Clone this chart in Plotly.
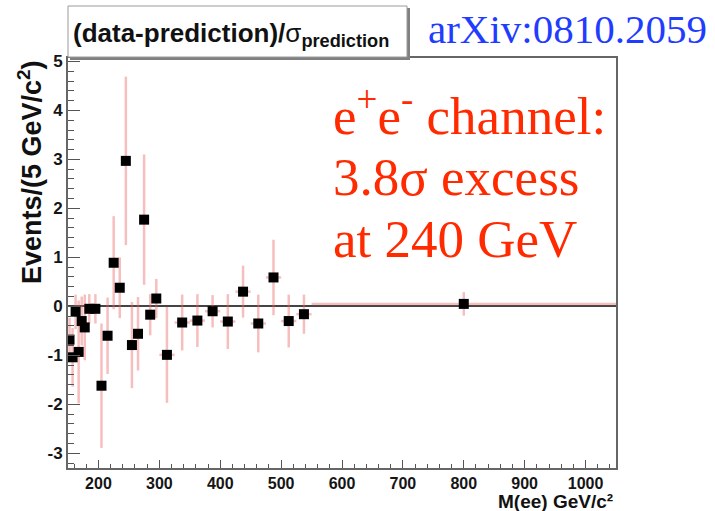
import plotly.graph_objects as go

# ---- data ----
mass = [152.5, 157.5, 162.5, 167.5, 172.5, 177.5, 185, 195, 205, 215, 225, 235, 245, 255,
        265, 275, 285, 295, 312.5, 337.5, 362.5, 387.5, 412.5, 437.5, 462.5, 487.5, 512.5,
        537.5, 800]
bin_half = [2.5, 2.5, 2.5, 2.5, 2.5, 2.5, 5, 5, 5, 5, 5, 5, 5, 5,
            5, 5, 5, 5, 12.5, 12.5, 12.5, 12.5, 12.5, 12.5, 12.5, 12.5, 12.5,
            12.5, 250]
pull = [-0.68, -1.04, -0.11, -0.93, -0.30, -0.43, -0.05, -0.05, -1.62, -0.60, 0.89, 0.38, 2.97, -0.79,
        -0.56, 1.77, -0.17, 0.16, -0.99, -0.33, -0.29, -0.10, -0.31, 0.30, -0.35, 0.59, -0.30,
        -0.16, 0.05]
pull_err = [0.45, 0.60, 0.35, 1.05, 0.50, 0.67, 0.30, 0.30, 1.27, 0.78, 0.95, 0.62, 1.72, 0.88,
            0.75, 1.33, 0.42, 0.40, 0.98, 0.57, 0.54, 0.33, 0.56, 0.53, 0.59, 0.77, 0.54,
            0.40, 0.24]
x_ticks = [200, 300, 400, 500, 600, 700, 800, 900, 1000]
y_ticks = [-3, -2, -1, 0, 1, 2, 3, 4, 5]

ERR = "rgba(235,100,100,0.42)"
SANS = "Liberation Sans"
SERIF = "Liberation Serif"

fig = go.Figure()
fig.add_trace(go.Scatter(
    x=mass, y=pull, mode="markers",
    marker=dict(symbol="square", size=10, color="black"),
    error_y=dict(type="data", array=pull_err, color=ERR, thickness=2.5, width=0),
    error_x=dict(type="data", array=bin_half, color=ERR, thickness=2.5, width=0),
    showlegend=False,
))

L, R, T, B, W, H = 68, 99, 58, 43, 715, 511
pw, ph = W - L - R, H - T - B
def px(xp):
    return (xp - L) / pw
def py(yp):
    return (H - B - yp) / ph

fig.update_layout(
    width=W, height=H,
    margin=dict(l=L, r=R, t=T, b=B),
    paper_bgcolor="white", plot_bgcolor="white",
    xaxis=dict(range=[150, 1050], tickvals=x_ticks, ticktext=[str(v) for v in x_ticks],
               ticks="inside", ticklen=8, tickwidth=1.2, tickcolor="#555",
               minor=dict(ticks="inside", ticklen=4, dtick=20, tick0=0, tickcolor="#555", tickwidth=1),
               showgrid=False, zeroline=False, showline=True, linecolor="#666", linewidth=2,
               mirror=True,
               tickfont=dict(family=SANS, size=16, color="#151515", weight="bold")),
    yaxis=dict(range=[-3.3, 5.07], tickvals=y_ticks, ticktext=[str(v) for v in y_ticks],
               ticks="inside", ticklen=12, tickwidth=1.2, tickcolor="#555",
               minor=dict(ticks="inside", ticklen=6, dtick=0.2, tick0=0, tickcolor="#555", tickwidth=1),
               showgrid=False, zeroline=True, zerolinecolor="#444", zerolinewidth=1.5,
               showline=True, linecolor="#666", linewidth=2, mirror=True,
               tickfont=dict(family=SANS, size=17, color="#151515", weight="bold")),
)

# title box (ROOT-style pave with shadow)
fig.add_shape(type="rect", xref="paper", yref="paper",
              x0=px(70), x1=px(410), y0=py(60), y1=py(8),
              fillcolor="#808080", line=dict(width=0), layer="above")
fig.add_shape(type="rect", xref="paper", yref="paper",
              x0=px(68), x1=px(407), y0=py(57), y1=py(6),
              fillcolor="white", line=dict(color="#9a9a9a", width=1), layer="above")
fig.add_annotation(xref="paper", yref="paper", x=px(71), y=py(35), xanchor="left", yanchor="middle",
                   showarrow=False,
                   text="<b>(data-prediction)/</b>σ<sub><b>prediction</b></sub>",
                   font=dict(family=SANS, size=26, color="#111"))

# axis titles
fig.add_annotation(xref="paper", yref="paper", x=px(30), y=py(58), xanchor="center", yanchor="top",
                   textangle=-90, showarrow=False,
                   text="<b>Events/(5 GeV/c<sup>2</sup>)</b>",
                   font=dict(family=SANS, size=27, color="#111"))
fig.add_annotation(xref="paper", yref="paper", x=px(615), y=py(501), xanchor="right", yanchor="middle",
                   showarrow=False,
                   text="<b>M(ee) GeV/c²</b>",
                   font=dict(family=SANS, size=19, color="#111"))

# reference label
fig.add_annotation(xref="paper", yref="paper", x=px(426), y=py(29), xanchor="left", yanchor="middle",
                   showarrow=False, text="arXiv:0810.2059",
                   font=dict(family=SERIF, size=41, color="#1f3cff"))

# red annotation
RED = "#ff2a00"
for txt, yc in [("e<sup>+</sup>e<sup>-</sup> channel:", 112),
                ("3.8σ excess", 177),
                ("at 240 GeV", 239)]:
    fig.add_annotation(xref="paper", yref="paper", x=px(331), y=py(yc), xanchor="left", yanchor="middle",
                       showarrow=False, text=txt,
                       font=dict(family=SERIF, size=53, color=RED))

fig.write_html("out.html")
